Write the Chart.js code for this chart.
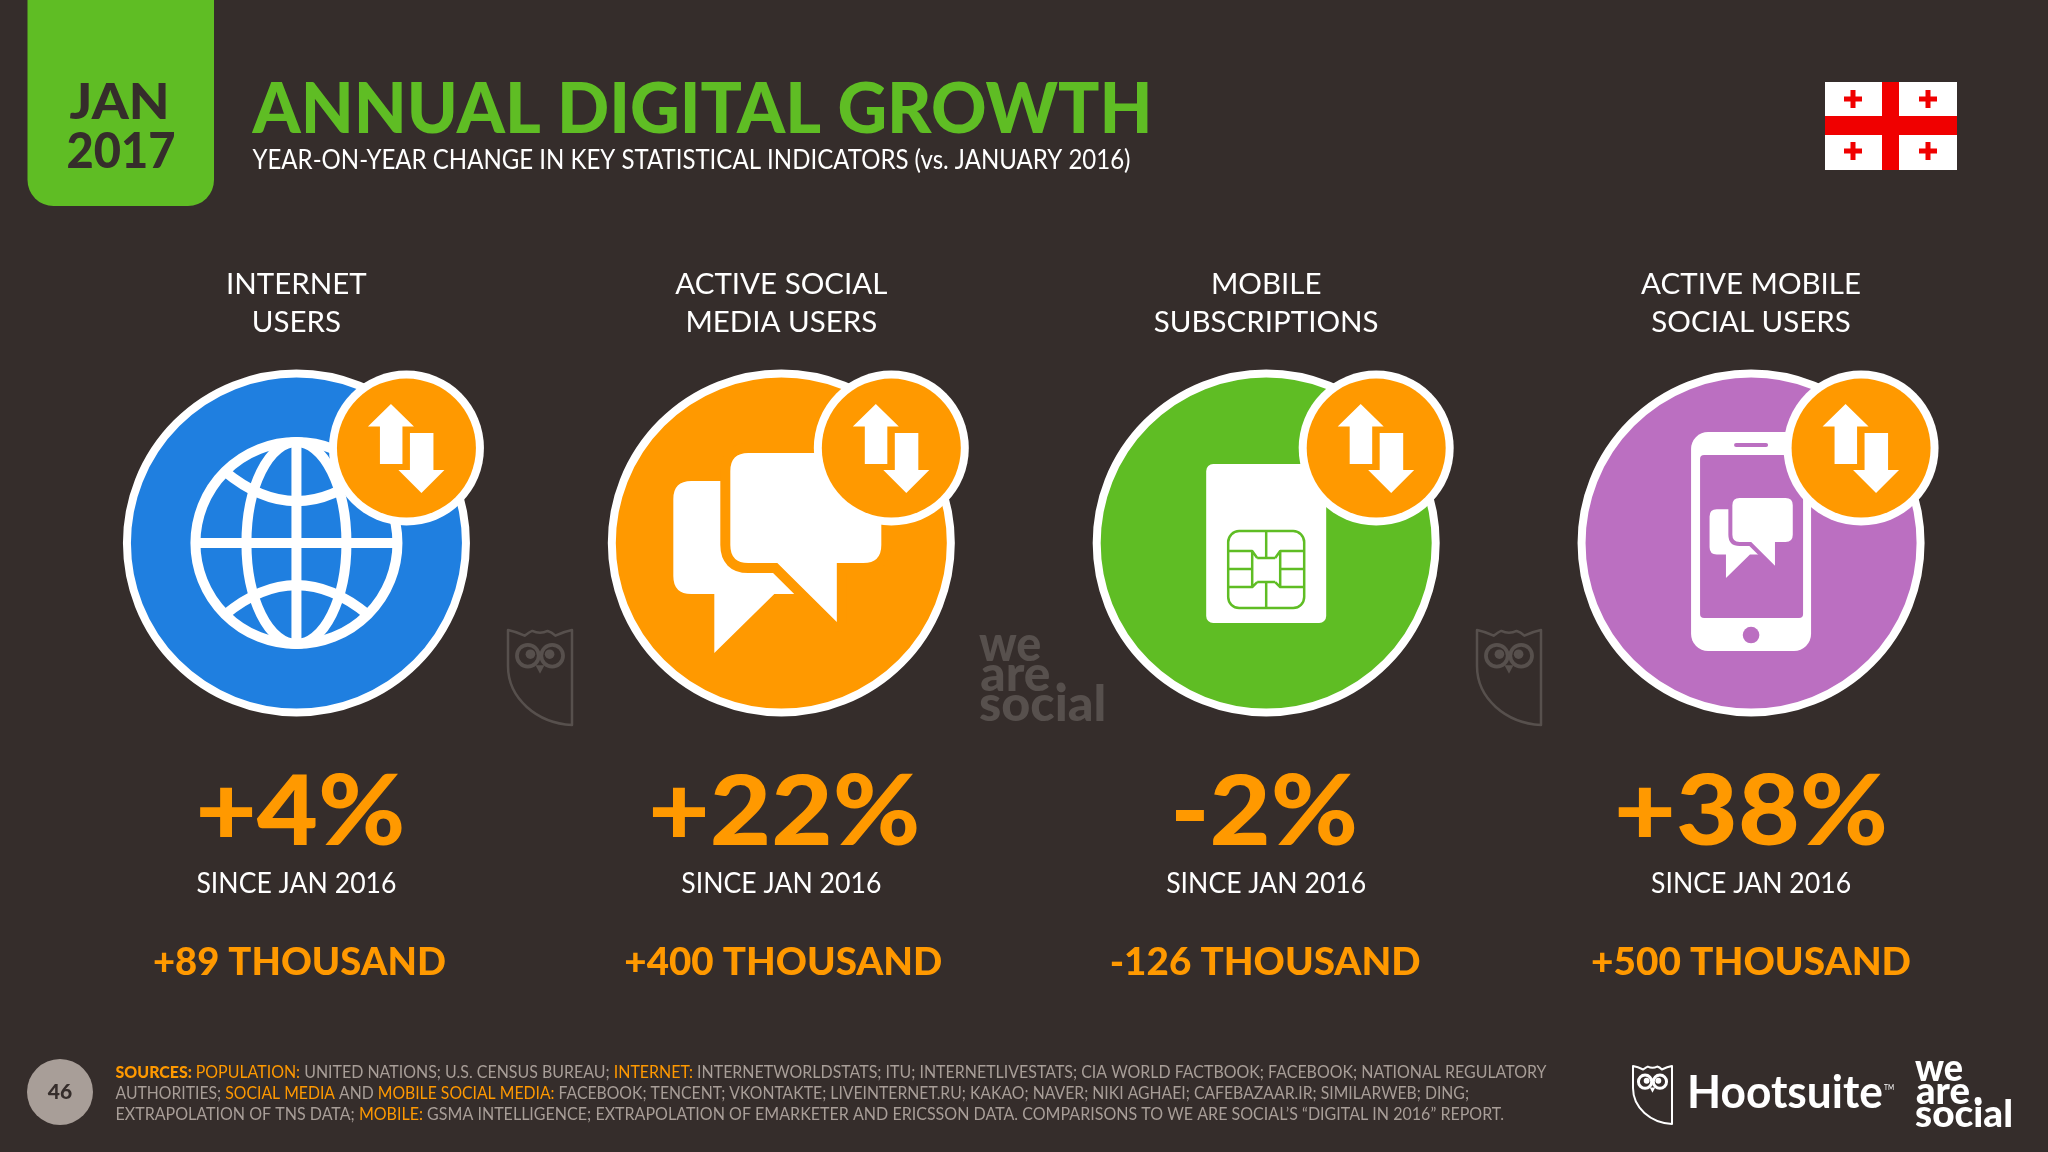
<!DOCTYPE html>
<html><head><meta charset="utf-8">
<script src="https://cdn.jsdelivr.net/npm/chart.js@4"></script>
<style>html,body{margin:0;padding:0;background:#352d2b;overflow:hidden}canvas{display:block}</style>
</head><body><canvas id="c" width="2048" height="1152"></canvas>
<script>
const categories=[['INTERNET','USERS'],['ACTIVE SOCIAL','MEDIA USERS'],['MOBILE','SUBSCRIPTIONS'],['ACTIVE MOBILE','SOCIAL USERS']];
const circleRow=[0,0,0,0];
const percentChange=[4,22,-2,38];
const absoluteChangeThousands=[89,400,-126,500];
const sinceLabel='SINCE JAN 2016';
const circleColors=['#1f7fe0','#ff9900','#5fbd24','#bb6fc1'];
const footerLines=[
 [['SOURCES: ','o',1],['POPULATION: ','o'],['UNITED NATIONS; U.S. CENSUS BUREAU; ','g'],['INTERNET: ','o'],['INTERNETWORLDSTATS; ITU; INTERNETLIVESTATS; CIA WORLD FACTBOOK; FACEBOOK; NATIONAL REGULATORY','g']],
 [['AUTHORITIES; ','g'],['SOCIAL MEDIA ','o'],['AND ','g'],['MOBILE SOCIAL MEDIA: ','o'],['FACEBOOK; TENCENT; VKONTAKTE; LIVEINTERNET.RU; KAKAO; NAVER; NIKI AGHAEI; CAFEBAZAAR.IR; SIMILARWEB; DING;','g']],
 [['EXTRAPOLATION OF TNS DATA; ','g'],['MOBILE: ','o'],['GSMA INTELLIGENCE; EXTRAPOLATION OF EMARKETER AND ERICSSON DATA. COMPARISONS TO WE ARE SOCIAL\u2019S \u201CDIGITAL IN 2016\u201D REPORT.','g']]
];
const BG='#352d2b',GREEN='#5fbd24',ORANGE='#ff9900',GREY='#a89e98',WM='#57504d',FONT='Lato';

function fit(ctx,str,x,base,font,color,w,align){
  ctx.save();ctx.font=font;ctx.fillStyle=color;ctx.textAlign='left';ctx.textBaseline='alphabetic';
  const m=ctx.measureText(str).width,s=w?w/m:1,tw=m*s;
  ctx.translate(align==='center'?x-tw/2:x,base);ctx.scale(s,1);ctx.fillText(str,0,0);ctx.restore();
}
function owl(ctx,x,y,w,h,col,lw){
  ctx.save();ctx.translate(x,y);ctx.strokeStyle=col;ctx.fillStyle=col;ctx.lineWidth=lw;ctx.lineJoin='round';
  ctx.beginPath();ctx.moveTo(0,0);ctx.quadraticCurveTo(w*.12,h*.015,w*.26,h*.06);
  ctx.quadraticCurveTo(w*.34,h*.02,w*.38,h*.01);ctx.quadraticCurveTo(w*.5,h*.05,w*.62,h*.01);
  ctx.quadraticCurveTo(w*.68,h*.02,w*.74,h*.06);ctx.quadraticCurveTo(w*.88,h*.015,w,0);
  ctx.lineTo(w,h);ctx.bezierCurveTo(w*.45,h*.98,0,h*.72,0,h*.38);ctx.closePath();ctx.stroke();
  ctx.lineWidth=lw*1.5;
  for(const ex of [.31,.69]){ctx.beginPath();ctx.arc(w*ex,h*.27,w*.17,0,7);ctx.stroke();
    ctx.beginPath();ctx.arc(w*(ex+(ex<.5?.04:-.04)),h*.255,w*.075,0,7);ctx.fill();}
  ctx.beginPath();ctx.moveTo(w*.43,h*.37);ctx.lineTo(w*.57,h*.37);ctx.lineTo(w*.5,h*.46);ctx.closePath();ctx.fill();
  ctx.restore();
}
function weAreSocial(ctx,x,base,k,col){
  const f=`900 ${38*k}px ${FONT}`;
  fit(ctx,'we',x,base,f,col,48*k);
  fit(ctx,'are',x+1*k,base+23*k,f,col,54*k);
  ctx.fillStyle=col;ctx.beginPath();ctx.arc(x+63*k,base+20*k,3.4*k,0,7);ctx.fill();
  fit(ctx,'social',x,base+46*k,f,col,98*k);
}
function bubbles(ctx,bg){
  ctx.fillStyle='#fff';
  ctx.beginPath();ctx.moveTo(-90,-62);ctx.lineTo(19,-62);ctx.lineTo(19,51);ctx.lineTo(11,51);ctx.lineTo(-7,51);ctx.lineTo(-67,110);ctx.lineTo(-67,51);
  ctx.lineTo(-90,51);ctx.quadraticCurveTo(-108,51,-108,33);ctx.lineTo(-108,-44);ctx.quadraticCurveTo(-108,-62,-90,-62);ctx.closePath();ctx.fill();
  const front=()=>{ctx.beginPath();ctx.moveTo(-33,-90);ctx.lineTo(82,-90);ctx.quadraticCurveTo(100,-90,100,-72);ctx.lineTo(100,2);ctx.quadraticCurveTo(100,20,82,20);
    ctx.lineTo(55.5,20);ctx.lineTo(55.5,79);ctx.lineTo(-4,20);ctx.lineTo(-33,20);ctx.quadraticCurveTo(-51,20,-51,2);ctx.lineTo(-51,-72);ctx.quadraticCurveTo(-51,-90,-33,-90);ctx.closePath();};
  ctx.strokeStyle=bg;ctx.lineWidth=20;ctx.lineJoin='round';front();ctx.stroke();
  ctx.fillStyle='#fff';front();ctx.fill();
}
const icons=[
 function globe(ctx){
  ctx.strokeStyle='#fff';ctx.lineWidth=10;
  ctx.beginPath();ctx.arc(0,0,101,0,7);ctx.stroke();
  ctx.beginPath();ctx.ellipse(0,0,50,101,0,0,7);ctx.stroke();
  ctx.beginPath();ctx.moveTo(0,-101);ctx.lineTo(0,101);ctx.moveTo(-101,0);ctx.lineTo(101,0);ctx.stroke();
  ctx.beginPath();ctx.moveTo(-72,-72);ctx.quadraticCurveTo(0,-12,72,-72);ctx.moveTo(-72,72);ctx.quadraticCurveTo(0,12,72,72);ctx.stroke();
 },
 function chat(ctx){bubbles(ctx,ORANGE);},
 function sim(ctx){
  ctx.fillStyle='#fff';ctx.beginPath();ctx.roundRect(-60,-79,120,159,7);ctx.fill();
  ctx.strokeStyle=GREEN;ctx.lineWidth=2.5;ctx.lineJoin='round';
  ctx.beginPath();ctx.roundRect(-38,-12,76,77,11);
  ctx.moveTo(0,-12);ctx.lineTo(0,15);ctx.moveTo(0,39);ctx.lineTo(0,65);
  ctx.moveTo(-9,15);ctx.lineTo(9,15);ctx.moveTo(-9,39);ctx.lineTo(9,39);
  ctx.moveTo(-38,8);ctx.lineTo(-14,8);ctx.lineTo(-9,15);ctx.moveTo(38,8);ctx.lineTo(14,8);ctx.lineTo(9,15);
  ctx.moveTo(-38,44);ctx.lineTo(-14,44);ctx.lineTo(-9,39);ctx.moveTo(38,44);ctx.lineTo(14,44);ctx.lineTo(9,39);
  ctx.moveTo(-14,8);ctx.lineTo(-14,44);ctx.moveTo(14,8);ctx.lineTo(14,44);
  ctx.moveTo(-38,26);ctx.lineTo(-14,26);ctx.moveTo(38,26);ctx.lineTo(14,26);ctx.stroke();
 },
 function phone(ctx){
  const P=circleColors[3];
  ctx.fillStyle='#fff';ctx.beginPath();ctx.roundRect(-60,-111,120,219,17);ctx.fill();
  ctx.fillStyle=P;ctx.beginPath();ctx.roundRect(-51,-88,103,163,4);ctx.fill();
  ctx.beginPath();ctx.roundRect(-17,-100,34,4,2);ctx.fill();
  ctx.beginPath();ctx.arc(0,92,8.3,0,7);ctx.fill();
  ctx.save();ctx.translate(1.7,-9);ctx.scale(.4,.4);bubbles(ctx,P);ctx.restore();
 }
];
function badge(ctx,x,y){
  ctx.fillStyle='#fff';ctx.beginPath();ctx.arc(x,y,77.5,0,7);ctx.fill();
  ctx.fillStyle=ORANGE;ctx.beginPath();ctx.arc(x,y,69.5,0,7);ctx.fill();
  ctx.fillStyle='#fff';
  ctx.beginPath();ctx.moveTo(x-15.5,y-44);ctx.lineTo(x+7.5,y-21.5);ctx.lineTo(x-4,y-21.5);ctx.lineTo(x-4,y+16);ctx.lineTo(x-26.5,y+16);ctx.lineTo(x-26.5,y-21.5);ctx.lineTo(x-38.5,y-21.5);ctx.closePath();ctx.fill();
  ctx.beginPath();ctx.moveTo(x+15,y+45);ctx.lineTo(x+38,y+22);ctx.lineTo(x+27,y+22);ctx.lineTo(x+27,y-15);ctx.lineTo(x+3.5,y-15);ctx.lineTo(x+3.5,y+22);ctx.lineTo(x-8,y+22);ctx.closePath();ctx.fill();
}
const signed=v=>(v>0?'+':'')+v;
const pctWidths=[210,272,188,274],pctShift=[4,3,-2,0],absWidths=[293,318,311,320],absShift=[3,2,-1,0];
const slide={id:'slide',
 beforeDatasetsDraw(chart){
  const ctx=chart.ctx;
  owl(ctx,508,630,64,95,WM,2.5);
  owl(ctx,1477,630,64,95,WM,2.5);
  weAreSocial(ctx,979,661,1.3,WM);
 },
 afterDatasetDraw(chart,args){
  if(args.index!==0)return;
  const ctx=chart.ctx,m=chart.getDatasetMeta(0);
  m.data.forEach((p,i)=>{ctx.save();ctx.translate(p.x,p.y);icons[i](ctx);ctx.restore();});
  m.data.forEach(p=>badge(ctx,p.x+110,p.y-95));
 },
 afterDraw(chart){
  const ctx=chart.ctx,xs=chart.scales.x;
  ctx.fillStyle=GREEN;ctx.beginPath();ctx.roundRect(27.5,-40,186.5,246,26);ctx.fill();
  fit(ctx,'JAN',119.5,119,`900 50px ${FONT}`,BG,100,'center');
  fit(ctx,'2017',121,168,`900 50px ${FONT}`,BG,109,'center');
  fit(ctx,'ANNUAL DIGITAL GROWTH',252.5,133,`900 70px ${FONT}`,GREEN,900);
  fit(ctx,'YEAR-ON-YEAR CHANGE IN KEY STATISTICAL INDICATORS (vs. JANUARY 2016)',252.5,169,`400 27px ${FONT}`,'#fff',878);
  ctx.fillStyle='#fff';ctx.fillRect(1825,82,132,88);
  ctx.fillStyle='#f00000';ctx.fillRect(1882,82,17,88);ctx.fillRect(1825,116,132,19);
  for(const [a,b] of [[1853,99],[1928,99],[1853,151],[1928,151]]){ctx.fillRect(a-9,b-2.5,18,5);ctx.fillRect(a-2.5,b-9,5,18);}
  categories.forEach((c,i)=>{
   const x=xs.getPixelForTick(i);
   fit(ctx,signed(percentChange[i])+'%',x+pctShift[i],845,`900 98px ${FONT}`,ORANGE,pctWidths[i],'center');
   fit(ctx,sinceLabel,x,893,`400 28px ${FONT}`,'#fff',200,'center');
   fit(ctx,signed(absoluteChangeThousands[i])+' THOUSAND',x+absShift[i],975,`900 38px ${FONT}`,ORANGE,absWidths[i],'center');
  });
  ctx.fillStyle=GREY;ctx.beginPath();ctx.arc(60,1092,33,0,7);ctx.fill();
  fit(ctx,'46',60,1099,`900 21px ${FONT}`,BG,null,'center');
  const ends=[1546.5,1469,1504],bases=[1078,1099,1120];
  footerLines.forEach((runs,l)=>{
   let tot=0;const fs=r=>`${r[2]?900:400} 17px ${FONT}`;
   runs.forEach(r=>{ctx.font=fs(r);tot+=ctx.measureText(r[0]).width;});
   const k=(ends[l]-115.5)/tot;let x=115.5;
   runs.forEach(r=>{ctx.font=fs(r);const w=ctx.measureText(r[0]).width*k;
     fit(ctx,r[0],x,bases[l],fs(r),r[1]==='o'?ORANGE:GREY,w);x+=w;});
  });
  owl(ctx,1633,1066,39,58,'#fff',2);
  fit(ctx,'Hootsuite',1687,1108,`700 46px ${FONT}`,'#fff',196);
  fit(ctx,'TM',1884,1090,`400 7px ${FONT}`,'#fff',10);
  weAreSocial(ctx,1915,1080.5,1,'#fff');
 }
};
new Chart(document.getElementById('c'),{
 type:'line',
 data:{labels:categories,datasets:[{label:'Indicators',data:circleRow,showLine:false,clip:false,
   backgroundColor:circleColors,borderColor:'#fff',pointBackgroundColor:circleColors,pointBorderColor:'#fff',
   pointRadius:169.5,pointHoverRadius:169.5,pointBorderWidth:8,pointHoverBorderWidth:8}]},
 options:{responsive:false,animation:false,events:[],devicePixelRatio:1,
  layout:{autoPadding:false,padding:{left:54,right:54.5,top:265,bottom:415}},
  plugins:{legend:{display:false},tooltip:{enabled:false}},
  scales:{
   x:{type:'category',position:'top',offset:true,grid:{display:false},border:{display:false},
      ticks:{color:'#fff',padding:0,autoSkip:false,maxRotation:0,font:{family:FONT,size:29.5,weight:'400',lineHeight:1.29}}},
   y:{type:'linear',min:-1,max:1,display:false}
  }},
 plugins:[slide]
});
</script></body></html>
